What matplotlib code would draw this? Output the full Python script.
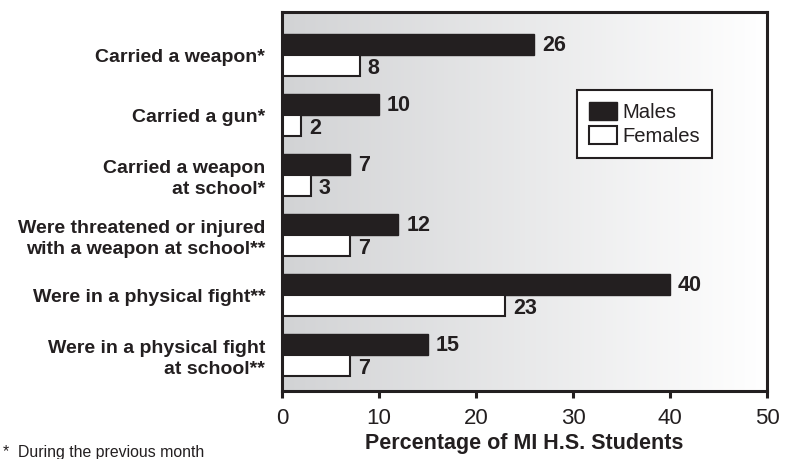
import matplotlib
matplotlib.use("Agg")
import matplotlib.pyplot as plt
import numpy as np
from matplotlib.patches import Patch
from matplotlib.colors import LinearSegmentedColormap

categories = [
    "Carried a weapon*",
    "Carried a gun*",
    "Carried a weapon\nat school*",
    "Were threatened or injured\nwith a weapon at school**",
    "Were in a physical fight**",
    "Were in a physical fight\nat school**",
]
males = [26, 10, 7, 12, 40, 15]
females = [8, 2, 3, 7, 23, 7]
xticks = [0, 10, 20, 30, 40, 50]

plt.rcParams['font.family'] = ['Liberation Sans', 'DejaVu Sans']
dark = '#231f20'

fig = plt.figure(figsize=(8.02, 4.59), dpi=100)
ax = fig.add_axes([282/802, 1-391/459, (767-282)/802, (391-12)/459])

# gradient background
grad = np.linspace(0, 1, 256)[None, :]
cmap = LinearSegmentedColormap.from_list('g', ['#d2d3d5', '#ffffff'])
ax.imshow(grad, extent=[0, 1, 0, 1], transform=ax.transAxes, aspect='auto',
          cmap=cmap, zorder=0)

y = np.arange(len(categories))
h = 0.35
off = 0.183
ax.barh(y - off, males, height=h, color=dark, edgecolor=dark, linewidth=1, zorder=2)
ax.barh(y + off, females, height=h, color='white', edgecolor=dark, linewidth=1.5, zorder=2)

for yi, m, f in zip(y, males, females):
    ax.text(m + 0.8, yi - off + 0.02, str(m), va='center', ha='left', fontsize=15.5,
            fontweight='bold', color=dark, zorder=3)
    ax.text(f + 0.8, yi + off + 0.04, str(f), va='center', ha='left', fontsize=15.5,
            fontweight='bold', color=dark, zorder=3)

ax.set_xlim(0, 50)
ax.set_ylim(5.6, -0.717)
ax.set_xticks(xticks)
ax.set_xticklabels([str(t) for t in xticks], fontsize=16, color=dark)
ax.tick_params(axis='x', length=5, width=2.2, pad=7, color=dark)
ax.set_yticks(y)
ax.set_yticklabels(categories, fontsize=14, fontweight='bold', color=dark,
                   linespacing=1.32)
ax.tick_params(axis='y', length=0, pad=12)
for s in ax.spines.values():
    s.set_linewidth(2.2)
    s.set_color(dark)
    s.set_zorder(4)

ax.set_xlabel("Percentage of MI H.S. Students", fontsize=15.5, fontweight='bold',
              color=dark, labelpad=3)

handles = [Patch(facecolor=dark, edgecolor=dark, label='Males'),
           Patch(facecolor='white', edgecolor=dark, linewidth=1.5, label='Females')]
leg = ax.legend(handles=handles, loc='upper left', bbox_to_anchor=(0.608, 0.794),
                borderaxespad=0, fontsize=14.6, frameon=True, fancybox=False,
                edgecolor=dark, framealpha=1, handlelength=1.4, handleheight=0.95,
                handletextpad=0.25, labelspacing=0.2, borderpad=0.6)
leg.get_frame().set_linewidth(1.5)
for t in leg.get_texts():
    t.set_color(dark)

fig.text(3/802, 1-452/459, "*  During the previous month", fontsize=11.4,
         color=dark, ha='left', va='center')

fig.savefig('out.png', dpi=100)
